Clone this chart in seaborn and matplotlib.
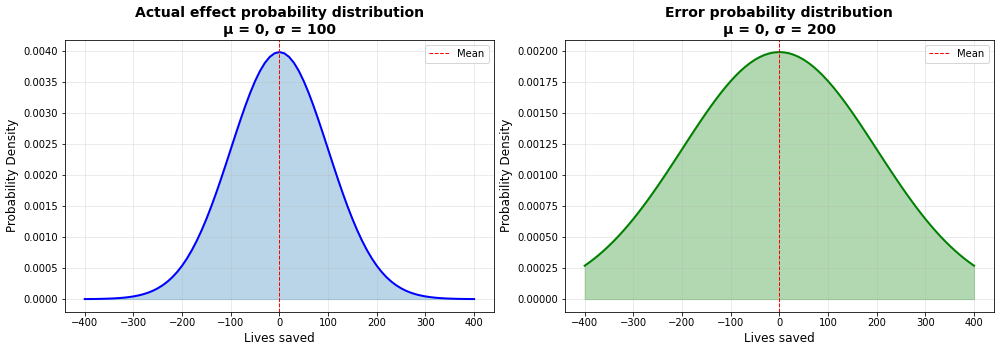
import numpy as np
import pandas as pd
import matplotlib
matplotlib.use("Agg")
import matplotlib.pyplot as plt
import seaborn as sns

# valores (paso de 10 vidas, de -400 a 400)
lives = list(range(-400, 401, 10))

effect_density = [
    0.0000013383, 0.0000019865, 0.0000029201, 0.0000042480, 0.0000061190,
    0.0000087268, 0.000012322, 0.000017226, 0.000023841, 0.000032668,
    0.000044318, 0.000059525, 0.000079155, 0.00010421, 0.00013583,
    0.00017528, 0.00022395, 0.00028327, 0.00035475, 0.00043984,
    0.00053991, 0.00065616, 0.00078950, 0.00094049, 0.0011092,
    0.0012952, 0.0014973, 0.0017137, 0.0019419, 0.0021785,
    0.0024197, 0.0026608, 0.0028969, 0.0031225, 0.0033322,
    0.0035206, 0.0036827, 0.0038139, 0.0039104, 0.0039695,
    0.0039894,
    0.0039695, 0.0039104, 0.0038139, 0.0036827, 0.0035206,
    0.0033322, 0.0031225, 0.0028969, 0.0026608, 0.0024197,
    0.0021785, 0.0019419, 0.0017137, 0.0014973, 0.0012952,
    0.0011092, 0.00094049, 0.00078950, 0.00065616, 0.00053991,
    0.00043984, 0.00035475, 0.00028327, 0.00022395, 0.00017528,
    0.00013583, 0.00010421, 0.000079155, 0.000059525, 0.000044318,
    0.000032668, 0.000023841, 0.000017226, 0.000012322, 0.0000087268,
    0.0000061190, 0.0000042480, 0.0000029201, 0.0000019865, 0.0000013383]

error_density = [
    0.00026995, 0.00029797, 0.00032808, 0.00036032, 0.00039475,
    0.00043139, 0.00047024, 0.00051132, 0.00055460, 0.00060004,
    0.00064759, 0.00069715, 0.00074863, 0.00080191, 0.00085684,
    0.00091324, 0.00097093, 0.0010297, 0.0010893, 0.0011494,
    0.0012098, 0.0012703, 0.0013304, 0.0013899, 0.0014485,
    0.0015057, 0.0015613, 0.0016149, 0.0016661, 0.0017147,
    0.0017603, 0.0018026, 0.0018414, 0.0018762, 0.0019069,
    0.0019333, 0.0019552, 0.0019724, 0.0019848, 0.0019922,
    0.0019947,
    0.0019922, 0.0019848, 0.0019724, 0.0019552, 0.0019333,
    0.0019069, 0.0018762, 0.0018414, 0.0018026, 0.0017603,
    0.0017147, 0.0016661, 0.0016149, 0.0015613, 0.0015057,
    0.0014485, 0.0013899, 0.0013304, 0.0012703, 0.0012098,
    0.0011494, 0.0010893, 0.0010297, 0.00097093, 0.00091324,
    0.00085684, 0.00080191, 0.00074863, 0.00069715, 0.00064759,
    0.00060004, 0.00055460, 0.00051132, 0.00047024, 0.00043139,
    0.00039475, 0.00036032, 0.00032808, 0.00029797, 0.00026995]

titles = ["Actual effect probability distribution\nμ = 0, σ = 100",
          "Error probability distribution\nμ = 0, σ = 200"]
means = [0, 0]
line_colors = ["blue", "green"]
fill_colors = ["C0", "green"]

plt.rcParams['font.family'] = ['DejaVu Sans']

df = pd.DataFrame({"Lives saved": lives,
                   "effect": effect_density,
                   "error": error_density})

fig, axes = plt.subplots(1, 2, figsize=(1000 / 72, 352 / 72), dpi=72)

for ax, col, title, mu, lc, fc in zip(axes, ["effect", "error"], titles, means,
                                       line_colors, fill_colors):
    sns.lineplot(data=df, x="Lives saved", y=col, color=lc, linewidth=2, ax=ax)
    ax.fill_between(df["Lives saved"], df[col], color=fc, alpha=0.3)
    ax.axvline(mu, color="red", linestyle="--", linewidth=1, label="Mean")
    ax.set_title(title, fontsize=14, fontweight="bold")
    ax.set_xlabel("Lives saved", fontsize=12)
    ax.set_ylabel("Probability Density", fontsize=12)
    ax.grid(True, alpha=0.3)
    ax.legend(loc="upper right")

plt.tight_layout(pad=0.65)
plt.savefig("out.png", dpi=72)
